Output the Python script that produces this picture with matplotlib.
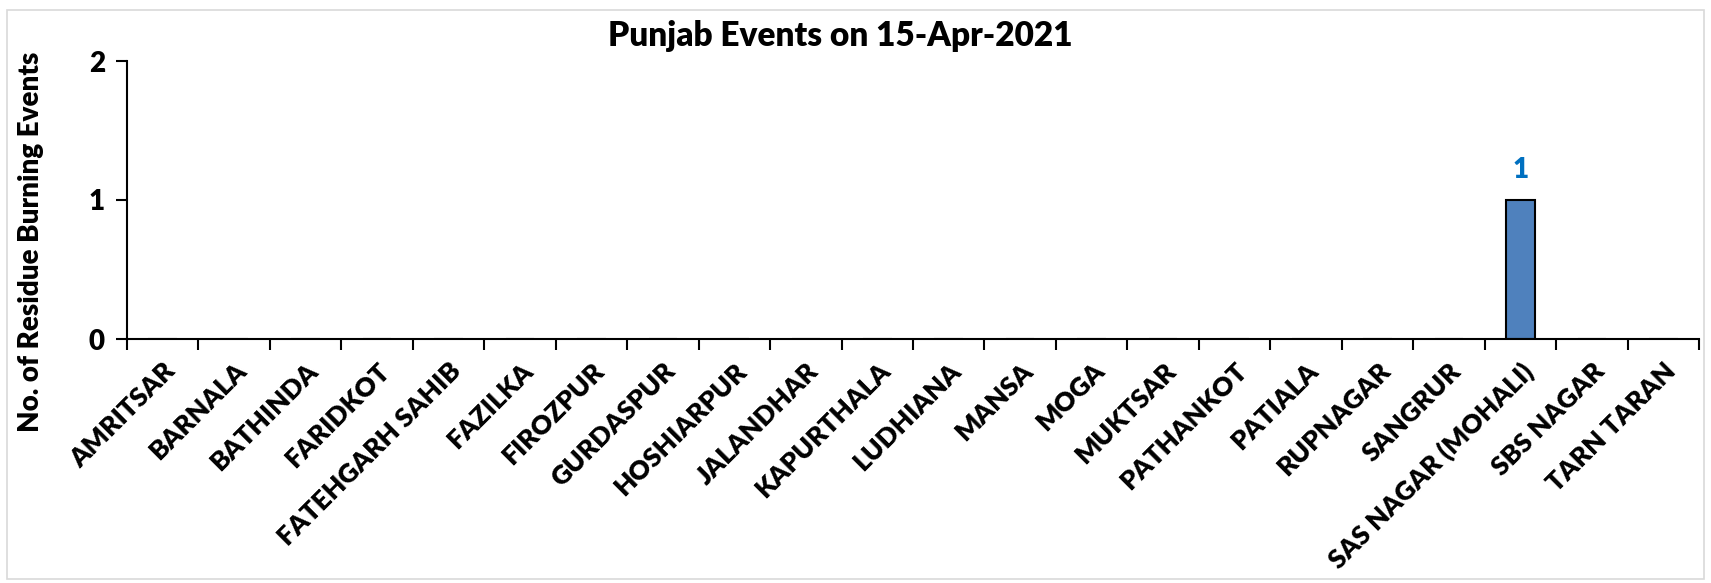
import numpy as np
import matplotlib.pyplot as plt
from matplotlib.patches import Rectangle

districts = ['AMRITSAR', 'BARNALA', 'BATHINDA', 'FARIDKOT', 'FATEHGARH SAHIB',
             'FAZILKA', 'FIROZPUR', 'GURDASPUR', 'HOSHIARPUR', 'JALANDHAR',
             'KAPURTHALA', 'LUDHIANA', 'MANSA', 'MOGA', 'MUKTSAR', 'PATHANKOT',
             'PATIALA', 'RUPNAGAR', 'SANGRUR', 'SAS NAGAR (MOHALI)', 'SBS NAGAR',
             'TARN TARAN']
events = [0, 0, 0, 0, 0, 0, 0, 0, 0, 0, 0, 0, 0, 0, 0, 0, 0, 0, 0, 1, 0, 0]
y_ticks = [0, 1, 2]

plt.rcParams['font.family'] = ['Lato', 'DejaVu Sans']
W = 'heavy'

fig = plt.figure(figsize=(17.11, 5.83), dpi=100)
ax = fig.add_axes([127 / 1711, 1 - 339 / 583, (1699 - 127) / 1711, (339 - 61) / 583])

# light frame round the whole chart, as in the spreadsheet export
fig.patches.append(Rectangle((7 / 1711, 4 / 583), 1 - 14 / 1711, 1 - 14 / 583,
                             transform=fig.transFigure, fill=False,
                             edgecolor='#d9d9d9', linewidth=1.2))

x = np.arange(len(districts))
bars = ax.bar(x, events, width=0.4, color='#4f81bd', edgecolor='black', linewidth=1.5)

for xi, v in zip(x, events):
    if v > 0:
        ax.annotate(str(v), (xi, v), xytext=(0, 12), textcoords='offset points',
                    ha='center', va='bottom', color='#0070c0',
                    fontsize=20, fontweight=W)

ax.set_xlim(-0.5, len(districts) - 0.5)
ax.set_ylim(0, 2)
ax.set_yticks(y_ticks)
ax.set_yticklabels([str(t) for t in y_ticks], fontsize=20, fontweight=W)

# tick marks sit between categories, labels at category centres
ax.set_xticks(np.arange(len(districts) + 1) - 0.5)
ax.set_xticklabels([])
ax.set_xticks(x, minor=True)
ax.set_xticklabels(districts, minor=True, rotation=45, ha='right',
                   rotation_mode='anchor', fontsize=19, fontweight=W)
ax.tick_params(axis='x', which='minor', length=0, pad=14)
ax.tick_params(axis='x', which='major', length=8, width=1.5, direction='out')
ax.tick_params(axis='y', length=8, width=1.5, direction='out', pad=8)

for s in ['top', 'right']:
    ax.spines[s].set_visible(False)
for s in ['left', 'bottom']:
    ax.spines[s].set_linewidth(1.5)

ax.set_ylabel('No. of Residue Burning Events', fontsize=20, fontweight=W)
ax.yaxis.set_label_coords(-0.053, 0.35)
fig.text(840 / 1711, 1 - 36 / 583, 'Punjab Events on 15-Apr-2021',
         ha='center', va='center', fontsize=24, fontweight=W)

fig.savefig('out.png', dpi=100)
